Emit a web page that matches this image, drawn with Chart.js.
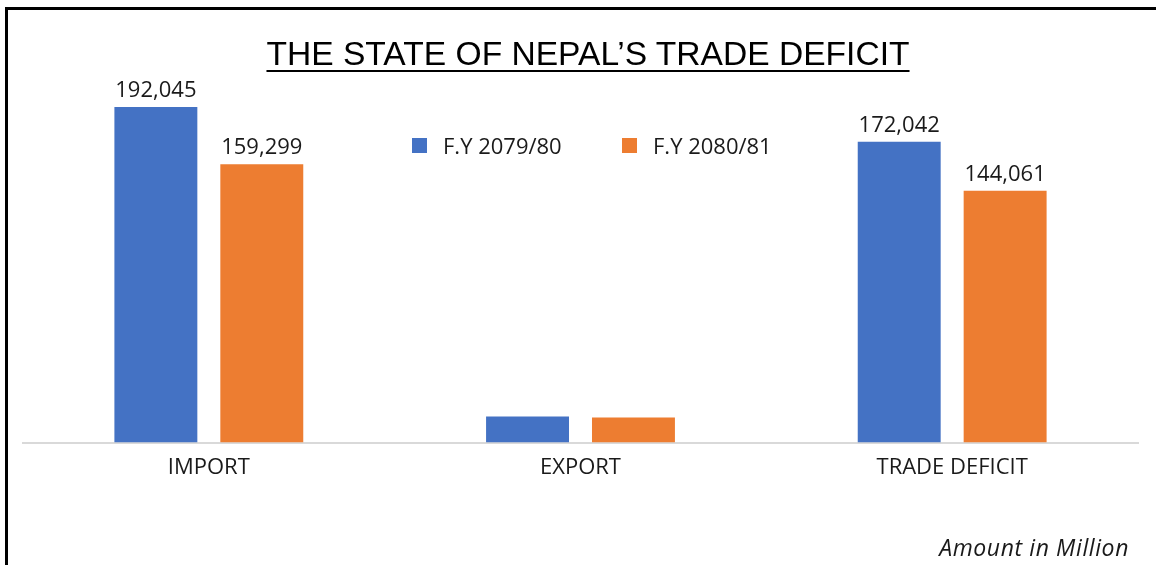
<!DOCTYPE html>
<html>
<head>
<meta charset="utf-8">
<title>The State of Nepal's Trade Deficit</title>
<script src="https://cdn.jsdelivr.net/npm/chart.js@4.4.0/dist/chart.umd.min.js"></script>
<style>
    html, body { margin: 0; padding: 0; background: #fff; }
    body { width: 1156px; height: 565px; position: relative; overflow: hidden; }
    #frame {
        position: absolute; left: 5px; top: 7px; width: 1200px; height: 600px;
        border-left: 3px solid #000; border-top: 3px solid #000;
    }
    #title {
        position: absolute; left: 10px; top: 37px; width: 1156px; text-align: center;
        font-family: "Liberation Sans", Arial, sans-serif; font-size: 33.6px; line-height: 33px;
        color: #000; text-decoration: underline; text-decoration-thickness: 2px;
        text-underline-offset: 5px;
    }
    #note {
        position: absolute; right: 27px; top: 536px;
        font-family: "Open Sans", sans-serif; font-style: italic; font-size: 23px; line-height: 22px;
        letter-spacing: 0.6px; color: #1a1a1a;
    }
    #chart { position: absolute; left: 0; top: 0; }
</style>
</head>
<body>
<div id="frame"></div>
<canvas id="chart" width="1156" height="565"></canvas>
<div id="title">THE STATE OF NEPAL’S TRADE DEFICIT</div>
<div id="note">Amount in Million</div>

<script>
// Chart data (NPR, million)
const categories = ['IMPORT', 'EXPORT', 'TRADE DEFICIT'];
const seriesNames = ['F.Y 2079/80', 'F.Y 2080/81'];
const fy7980 = [192045, 15000, 172042];
const fy8081 = [159299, 14300, 144061];
// export bars carry no value label in the original
const showValueLabel = [true, false, true];

const BLUE = '#4472C4';
const ORANGE = '#ED7D31';
const TEXT = '#1a1a1a';
const FONT = '"Open Sans", sans-serif';

// Value labels above the bars
const valueLabels = {
    id: 'valueLabels',
    afterDatasetsDraw(chart) {
        const ctx = chart.ctx;
        ctx.save();
        ctx.font = '22px ' + FONT;
        ctx.fillStyle = TEXT;
        ctx.textAlign = 'center';
        ctx.textBaseline = 'alphabetic';
        chart.data.datasets.forEach((ds, di) => {
            const meta = chart.getDatasetMeta(di);
            meta.data.forEach((bar, i) => {
                if (!showValueLabel[i]) return;
                ctx.fillText(ds.data[i].toLocaleString('en-US'), bar.x, bar.y - 10);
            });
        });
        ctx.restore();
    }
};

// Legend sits inside the plot, between the bar groups
const innerLegend = {
    id: 'innerLegend',
    afterDraw(chart) {
        const ctx = chart.ctx;
        const startX = 412, topY = 138, step = 210, box = 15;
        ctx.save();
        ctx.font = '22px ' + FONT;
        ctx.textBaseline = 'alphabetic';
        ctx.textAlign = 'left';
        chart.data.datasets.forEach((ds, di) => {
            const x = startX + di * step;
            ctx.fillStyle = ds.backgroundColor;
            ctx.fillRect(x, topY, box, box);
            ctx.fillStyle = TEXT;
            ctx.fillText(ds.label, x + 31, topY + 16);
        });
        ctx.restore();
    }
};

new Chart(document.getElementById('chart'), {
    type: 'bar',
    data: {
        labels: categories,
        datasets: [
            { label: seriesNames[0], data: fy7980, backgroundColor: BLUE },
            { label: seriesNames[1], data: fy8081, backgroundColor: ORANGE }
        ]
    },
    options: {
        responsive: false,
        animation: false,
        devicePixelRatio: 1,
        layout: { padding: { left: 23, right: 18, top: 93, bottom: 72 } },
        datasets: {
            bar: { categoryPercentage: 0.57, barPercentage: 0.783 }
        },
        plugins: {
            legend: { display: false },
            title: { display: false },
            tooltip: { enabled: false }
        },
        scales: {
            y: { display: false, min: 0, max: 200000 },
            x: {
                grid: { display: false, drawTicks: false },
                border: { display: true, color: '#d9d9d9', width: 2 },
                ticks: {
                    color: TEXT,
                    padding: 12,
                    font: { family: FONT, size: 22 }
                }
            }
        }
    },
    plugins: [valueLabels, innerLegend]
});
</script>
</body>
</html>
